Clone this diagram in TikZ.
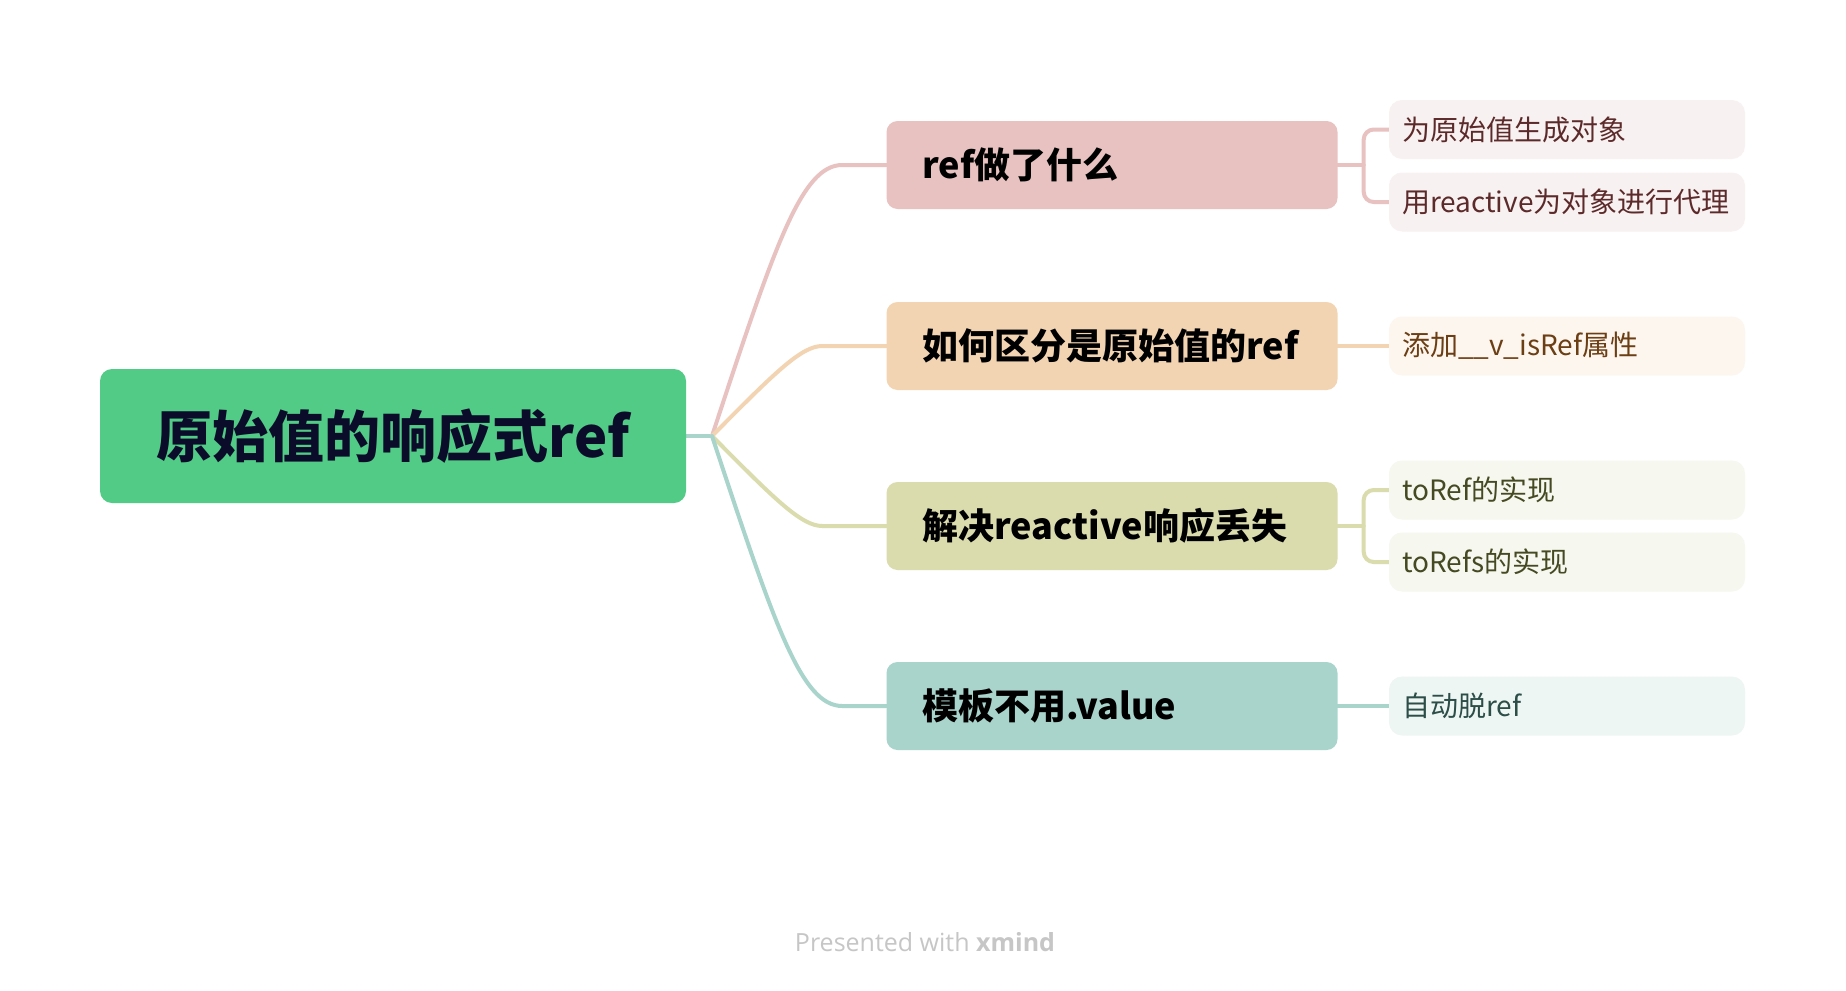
\documentclass[tikz,border=0pt]{standalone}
\usepackage{fontspec}
\setmainfont{Noto Sans CJK SC}
\newfontfamily\footfont{Open Sans}
\usetikzlibrary{calc,backgrounds}

\definecolor{rootgreen}{HTML}{51CB85}
\definecolor{rootink}{HTML}{0B0B2A}
\definecolor{pinkmain}{HTML}{E8C2C1}
\definecolor{pinksub}{HTML}{F8F1F1}
\definecolor{pinkink}{HTML}{5C2A2A}
\definecolor{sandmain}{HTML}{F2D4B2}
\definecolor{sandsub}{HTML}{FDF6EF}
\definecolor{sandink}{HTML}{6B3E14}
\definecolor{olivemain}{HTML}{DADCAE}
\definecolor{olivesub}{HTML}{F6F7EF}
\definecolor{oliveink}{HTML}{464A22}
\definecolor{tealmain}{HTML}{A9D4CB}
\definecolor{tealsub}{HTML}{EEF6F4}
\definecolor{tealink}{HTML}{2C4E47}
\definecolor{footgray}{HTML}{C6C6C6}

\tikzset{
  rootbox/.style={fill=rootgreen, rounded corners=12pt, minimum width=586pt, minimum height=134pt,
    inner sep=0pt, text=rootink, font=\fontsize{56pt}{60pt}\selectfont\bfseries},
  mainbox/.style={fill=#1, rounded corners=11pt, minimum height=88pt, text width=379pt,
    inner xsep=36pt, inner ysep=0pt, align=left, text=black, font=\fontsize{36pt}{40pt}\selectfont\bfseries},
  subbox/.style={fill=#1, rounded corners=13pt, minimum height=59pt, text width=330pt,
    inner xsep=13pt, inner ysep=0pt, align=left, font=\fontsize{28pt}{32pt}\selectfont},
  link/.style={draw=#1, line width=4pt, line cap=round},
}

\begin{document}
\begin{tikzpicture}[x=1pt,y=-1pt]
\useasboundingbox (0,0) rectangle (1846,990);

% topics
\node[rootbox] (root) at (393,436) {原始值的响应式ref};
\node[mainbox=pinkmain] (what) at (1112,165) {ref做了什么};
\node[mainbox=sandmain] (isref) at (1112,346) {如何区分是原始值的ref};
\node[mainbox=olivemain] (lost) at (1112,526) {解决reactive响应丢失};
\node[mainbox=tealmain] (tpl) at (1112,706) {模板不用.value};

% subtopics
\node[subbox=pinksub, text=pinkink] (wrap) at (1567,129.5) {为原始值生成对象};
\node[subbox=pinksub, text=pinkink] (proxy) at (1567,202) {用reactive为对象进行代理};
\node[subbox=sandsub, text=sandink] (flag) at (1567,346) {添加\_\_v\_isRef属性};
\node[subbox=olivesub, text=oliveink] (toref) at (1567,490) {toRef的实现};
\node[subbox=olivesub, text=oliveink] (torefs) at (1567,562) {toRefs的实现};
\node[subbox=tealsub, text=tealink] (unwrap) at (1567,706) {自动脱ref};

\node[font=\footfont\fontsize{25pt}{28pt}\selectfont, text=footgray] (credit) at (925,942)
  {Presented with \textbf{xmind}};

\begin{scope}[on background layer]
\fill[white] (0,0) rectangle (1846,990);
\coordinate (hub) at (712,436);
\draw[link=tealmain] (root.east) -- (hub);
\draw[link=pinkmain] (hub) .. controls ($(hub)!0.7!($(what.west)+(-85,0)$)$) and ($(what.west)+(-85,0)$)
  .. ($(what.west)+(-44,0)$) -- (what.west);
\draw[link=sandmain] (hub) .. controls ($(hub)!0.7!($(isref.west)+(-85,0)$)$) and ($(isref.west)+(-85,0)$)
  .. ($(isref.west)+(-64,0)$) -- (isref.west);
\draw[link=olivemain] (hub) .. controls ($(hub)!0.7!($(lost.west)+(-85,0)$)$) and ($(lost.west)+(-85,0)$)
  .. ($(lost.west)+(-64,0)$) -- (lost.west);
\draw[link=tealmain] (hub) .. controls ($(hub)!0.7!($(tpl.west)+(-85,0)$)$) and ($(tpl.west)+(-85,0)$)
  .. ($(tpl.west)+(-44,0)$) -- (tpl.west);

\draw[link=pinkmain] (what.east) -- ++(26,0) coordinate (whatfork);
\draw[link=pinkmain, rounded corners=10pt] (wrap.west) -| (whatfork) |- (proxy.west);
\draw[link=sandmain] (isref.east) -- (flag.west);
\draw[link=olivemain] (lost.east) -- ++(26,0) coordinate (lostfork);
\draw[link=olivemain, rounded corners=10pt] (toref.west) -| (lostfork) |- (torefs.west);
\draw[link=tealmain] (tpl.east) -- (unwrap.west);
\end{scope}
\end{tikzpicture}
\end{document}
